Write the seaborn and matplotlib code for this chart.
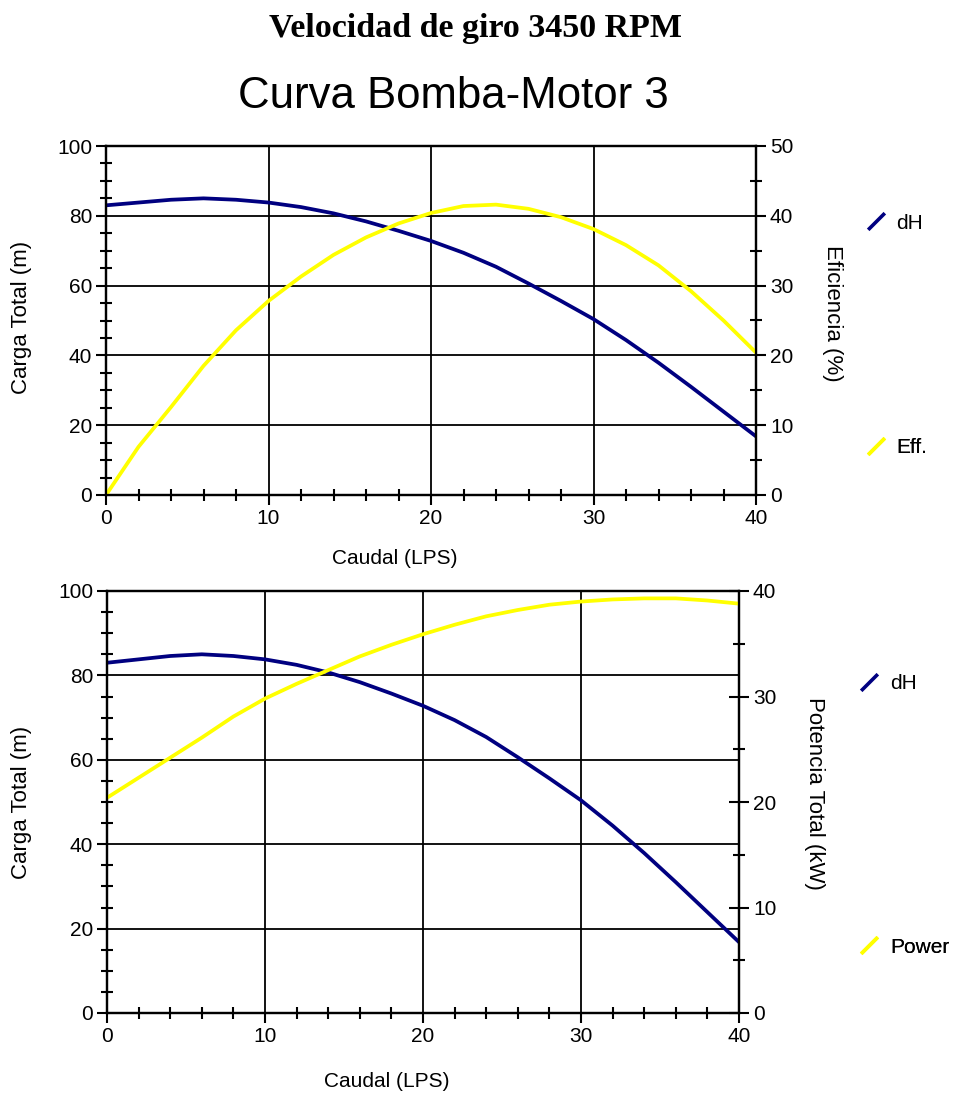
import matplotlib
matplotlib.use("Agg")
import matplotlib.pyplot as plt
from matplotlib.lines import Line2D
from matplotlib.ticker import MultipleLocator
import numpy as np
import pandas as pd
import seaborn as sns

# Pump-motor curve data (flow in LPS)
caudal = [0, 2, 4, 6, 8, 10, 12, 14, 16, 18, 20, 22, 24, 26, 28, 30, 32, 34, 36, 38, 40]
carga = [83.0, 83.8, 84.6, 85.0, 84.6, 83.8, 82.5, 80.7, 78.4, 75.7, 72.8, 69.4, 65.4,
         60.6, 55.6, 50.4, 44.4, 37.9, 31.0, 23.9, 16.8]
eficiencia = [0.0, 6.9, 12.6, 18.5, 23.6, 27.8, 31.3, 34.4, 36.9, 38.9, 40.4, 41.4, 41.6,
              41.0, 39.8, 38.1, 35.8, 32.9, 29.2, 25.0, 20.4]
potencia = [20.4, 22.3, 24.2, 26.1, 28.1, 29.8, 31.2, 32.5, 33.8, 34.9, 35.9, 36.8, 37.6,
            38.2, 38.7, 39.0, 39.2, 39.3, 39.3, 39.1, 38.8]

df = pd.DataFrame({"caudal": caudal, "carga": carga, "eff": eficiencia, "power": potencia})

sns.set_style("white")
plt.rcParams["font.family"] = ["Liberation Sans", "DejaVu Sans"]
plt.rcParams.update({"text.color": "black", "axes.labelcolor": "black",
                     "xtick.color": "black", "ytick.color": "black"})

NAVY = "#000080"
YELLOW = "#FFFF00"
FS = 15
FS_LABEL = 16
LW = 2.7

fig = plt.figure(figsize=(9.56, 10.93), dpi=100)

fig.text(0.497, 1 - 28 / 1093, "Velocidad de giro 3450 RPM", ha="center", va="center",
         fontsize=24.5, fontweight="bold", family=["Liberation Serif", "DejaVu Serif"])
fig.text(0.474, 1 - 97 / 1093, "Curva Bomba-Motor 3", ha="center", va="center", fontsize=31.5)


def style_axes(ax, ax2, right_max, right_minor):
    ax.set_xlim(0, 40)
    ax.set_ylim(0, 100)
    ax2.set_ylim(0, right_max)
    ax.xaxis.set_major_locator(MultipleLocator(10))
    ax.xaxis.set_minor_locator(MultipleLocator(2))
    ax.yaxis.set_major_locator(MultipleLocator(20))
    ax.yaxis.set_minor_locator(MultipleLocator(5))
    ax2.yaxis.set_major_locator(MultipleLocator(10))
    ax2.yaxis.set_minor_locator(MultipleLocator(right_minor))
    ax.grid(True, which="major", color="black", linewidth=1.3)
    for a in (ax, ax2):
        for s in a.spines.values():
            s.set_visible(True)
            s.set_color("black")
            s.set_linewidth(1.6)
    ax.tick_params(axis="both", which="major", direction="out", length=7, width=1.5,
                   color="black", labelsize=FS, pad=3, left=True, bottom=True)
    ax.tick_params(axis="both", which="minor", direction="inout", length=8, width=1.5,
                   color="black", left=True, bottom=True)
    ax2.tick_params(axis="y", which="major", direction="out", length=7, width=1.5,
                    color="black", labelsize=FS, pad=3, right=True)
    ax2.tick_params(axis="y", which="minor", direction="inout", length=8, width=1.5,
                    color="black", right=True)
    ax2.grid(False)


def side_legend(ax, color, label, x, y):
    h = Line2D([], [], color=color, linestyle="none", marker=[(-1, -1), (1, 1)],
               markersize=12, markeredgewidth=2.6)
    leg = ax.legend(handles=[h], labels=[label], loc="center left", bbox_to_anchor=(x, y),
                    bbox_transform=ax.transAxes, frameon=False, fontsize=FS,
                    handlelength=1.0, handletextpad=0.5, borderpad=0, borderaxespad=0,
                    numpoints=1)
    ax.add_artist(leg)


# --- Upper chart: head and efficiency ---
ax1 = fig.add_axes([106 / 956, 1 - 495 / 1093, 650 / 956, 349 / 1093])
ax1b = ax1.twinx()
sns.lineplot(data=df, x="caudal", y="carga", ax=ax1, color=NAVY, linewidth=LW)
sns.lineplot(data=df, x="caudal", y="eff", ax=ax1b, color=YELLOW, linewidth=LW)
style_axes(ax1, ax1b, 50, 5)
ax1.set_xlabel("Caudal (LPS)", fontsize=FS)
ax1.xaxis.set_label_coords(0.445, -0.155)
ax1.set_ylabel("Carga Total (m)", fontsize=FS_LABEL)
ax1.yaxis.set_label_coords(-0.114, 0.51)
ax1b.set_ylabel("Eficiencia (%)", fontsize=FS_LABEL, rotation=270, va="center")
ax1b.yaxis.set_label_coords(1.118, 0.52)
side_legend(ax1b, NAVY, "dH", 1.168, 0.779)
side_legend(ax1b, YELLOW, "Eff.", 1.168, 0.135)

# --- Lower chart: head and power ---
ax2 = fig.add_axes([107 / 956, 1 - 1013 / 1093, 632 / 956, 422 / 1093])
ax2b = ax2.twinx()
sns.lineplot(data=df, x="caudal", y="carga", ax=ax2, color=NAVY, linewidth=LW)
sns.lineplot(data=df, x="caudal", y="power", ax=ax2b, color=YELLOW, linewidth=LW)
style_axes(ax2, ax2b, 40, 5)
ax2b.tick_params(axis="y", which="major", direction="inout", length=14)
ax2.set_xlabel("Caudal (LPS)", fontsize=FS)
ax2.xaxis.set_label_coords(0.443, -0.140)
ax2.set_ylabel("Carga Total (m)", fontsize=FS_LABEL)
ax2.yaxis.set_label_coords(-0.119, 0.5)
ax2b.set_ylabel("Potencia Total (kW)", fontsize=FS_LABEL, rotation=270, va="center")
ax2b.yaxis.set_label_coords(1.12, 0.52)
side_legend(ax2b, NAVY, "dH", 1.19, 0.78)
side_legend(ax2b, YELLOW, "Power", 1.19, 0.156)

fig.savefig("out.png", dpi=100)
